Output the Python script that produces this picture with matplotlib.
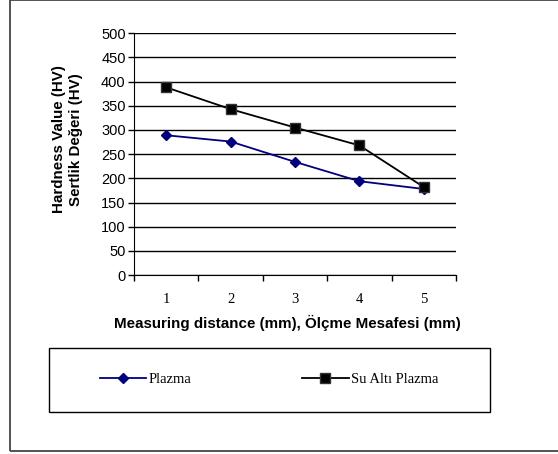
import numpy as np
import matplotlib
matplotlib.use("Agg")
import matplotlib.pyplot as plt
from matplotlib.patches import Rectangle

distance = [1, 2, 3, 4, 5]
plazma = [289, 276, 234, 194, 178]
su_alti = [388, 343, 305, 268, 182]
yticks = list(range(0, 501, 50))

fig = plt.figure(figsize=(5.58, 4.54), dpi=100)
ax = fig.add_axes([0.2401, 0.394, 0.577, 0.533])

ax.plot(distance, plazma, color="#000080", lw=1.3, marker="D", ms=5.5,
        label="Plazma", zorder=3)
ax.plot(distance, su_alti, color="black", lw=1.3, marker="s", ms=7.5,
        markeredgecolor="#333333", label="Su Altı Plazma", zorder=4)

ax.set_xlim(0.5, 5.5)
ax.set_ylim(0, 500)
ax.set_yticks(yticks)
ax.set_xticks(distance)
ax.set_xticks(np.arange(0.5, 6, 1), minor=True)
ax.tick_params(axis="x", which="major", length=0, pad=13)
ax.tick_params(axis="x", which="minor", length=4, width=1)
ax.tick_params(axis="y", length=4, width=1, pad=2)
for lab in ax.get_xticklabels():
    lab.set_fontfamily("Liberation Serif")
    lab.set_fontsize(10.5)
for lab in ax.get_yticklabels():
    lab.set_fontfamily("Liberation Sans")
    lab.set_fontsize(10.5)

ax.yaxis.grid(True, color="black", lw=1)
ax.set_axisbelow(True)
ax.spines["top"].set_visible(False)
ax.spines["right"].set_visible(False)

ax.set_xlabel("Measuring distance (mm), Ölçme Mesafesi (mm)",
              fontfamily="Liberation Sans", fontweight="bold", fontsize=10.9)
ax.xaxis.set_label_coords(0.476, -0.165)
fig.text(0.121, 0.693, "Hardness Value (HV)\nSertlik Değeri (HV)", rotation=90,
         ha="center", va="center", multialignment="center",
         fontfamily="Liberation Sans", fontweight="bold", fontsize=10.9, linespacing=1.25)

# legend box
fig.add_artist(Rectangle((49 / 558, 1 - 412 / 454), 441 / 558, 64 / 454,
                         transform=fig.transFigure, fill=False, ec="black", lw=1))
leg = fig.legend(loc="center", bbox_to_anchor=(269 / 558, 1 - 379 / 454), ncol=2,
                 frameon=False, columnspacing=7.6, handlelength=3.2, handletextpad=0.15,
                 prop={"family": "Liberation Serif", "size": 10.5})

# outer chart frame
fig.add_artist(Rectangle((10 / 558, 3 / 454), 560 / 558, 451 / 454,
                         transform=fig.transFigure, fill=False, ec="#444444", lw=1.3))

fig.savefig("out.png", dpi=100)
